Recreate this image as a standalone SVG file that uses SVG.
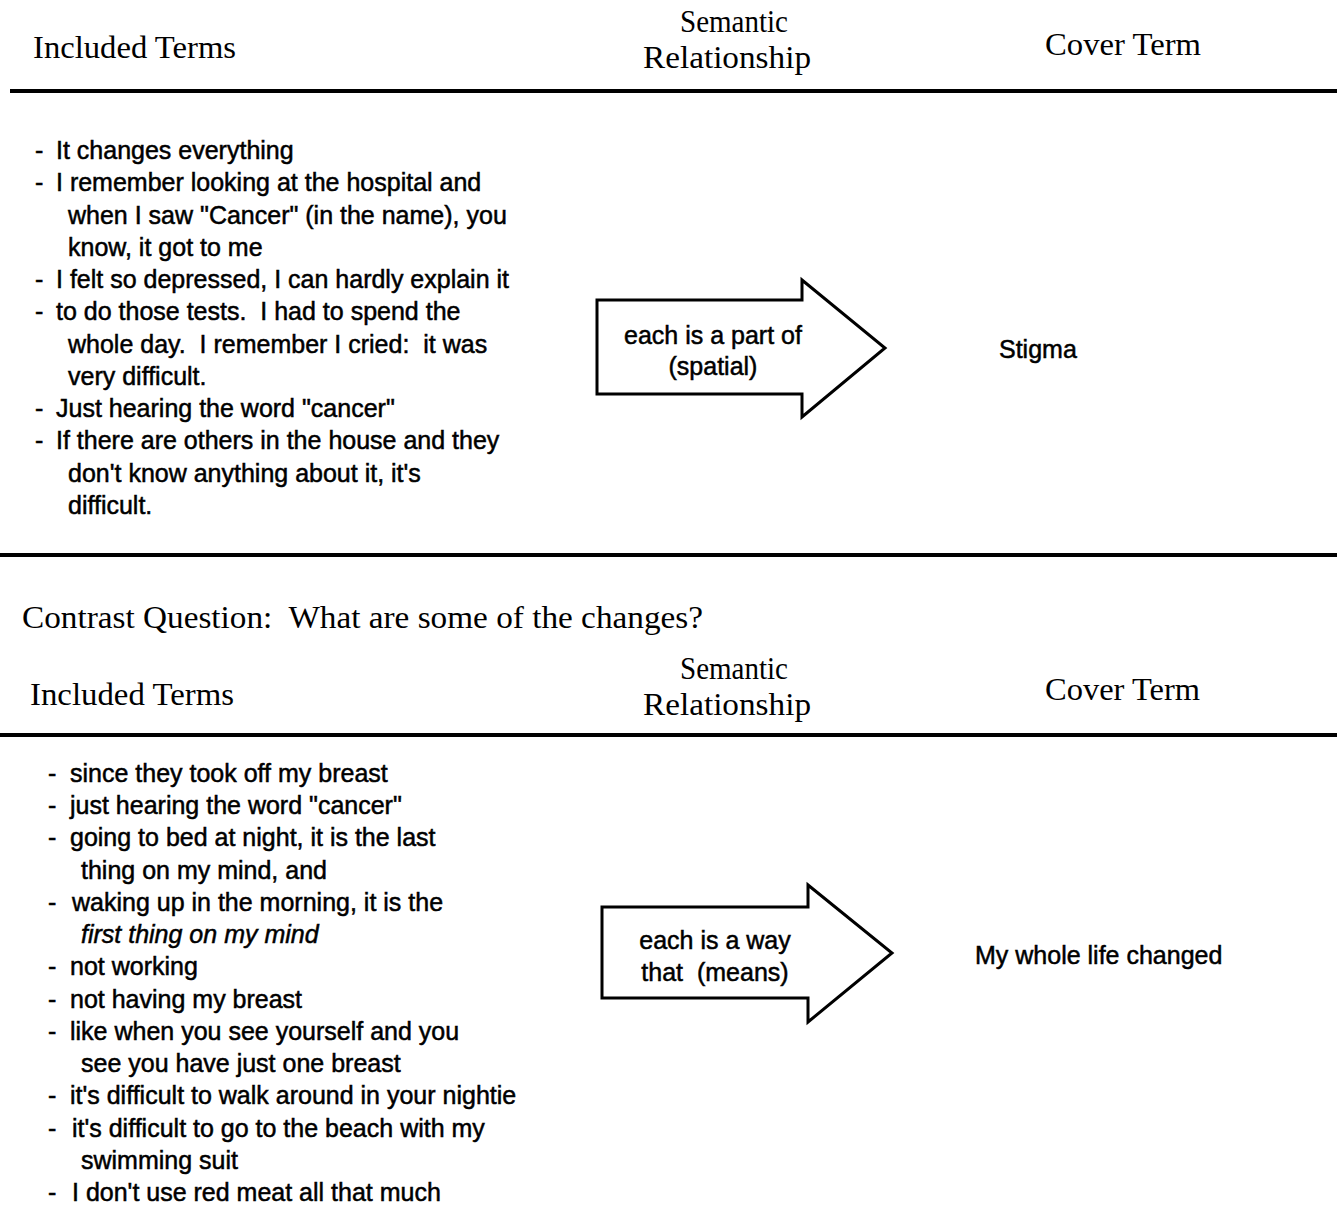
<svg xmlns="http://www.w3.org/2000/svg" width="1337" height="1227" viewBox="0 0 1337 1227">
  <style>
    text { white-space: pre; }
    .head { font-family: "Liberation Serif", "Times New Roman", serif; font-size: 32px; fill: #000; }
    .body { font-family: "Liberation Sans", Arial, sans-serif; font-size: 25px; fill: #000; stroke: #000; stroke-width: 0.5px; }
    .mid { text-anchor: middle; }
    .rule { stroke: #000; stroke-width: 4; }
    .arrow { fill: #fff; stroke: #000; stroke-width: 3; stroke-linejoin: miter; }
  </style>
  <rect width="1337" height="1227" fill="#fff"/>

  <!-- Table 1: headers -->
  <g id="header-1">
    <text class="head" x="33" y="58" textLength="203" lengthAdjust="spacingAndGlyphs">Included Terms</text>
    <text class="head mid" x="734" y="32" textLength="108" lengthAdjust="spacingAndGlyphs">Semantic</text>
    <text class="head mid" x="727" y="68" textLength="168" lengthAdjust="spacingAndGlyphs">Relationship</text>
    <text class="head" x="1045" y="55" textLength="156" lengthAdjust="spacingAndGlyphs">Cover Term</text>
  </g>

  <g id="rules">
    <line class="rule" x1="10" y1="91" x2="1337" y2="91"/>
    <line class="rule" x1="0" y1="555" x2="1337" y2="555"/>
    <line class="rule" x1="0" y1="735" x2="1337" y2="735"/>
  </g>

  <!-- Table 1: included terms -->
  <g id="terms-1" class="body">
    <text x="35" y="159">-</text><text x="56" y="159">It changes everything</text>
    <text x="35" y="191">-</text><text x="56" y="191">I remember looking at the hospital and</text>
    <text x="68" y="224">when I saw "Cancer" (in the name), you</text>
    <text x="68" y="256">know, it got to me</text>
    <text x="35" y="288">-</text><text x="56" y="288">I felt so depressed, I can hardly explain it</text>
    <text x="35" y="320">-</text><text x="56" y="320">to do those tests.  I had to spend the</text>
    <text x="68" y="353">whole day.  I remember I cried:  it was</text>
    <text x="68" y="385">very difficult.</text>
    <text x="35" y="417">-</text><text x="56" y="417">Just hearing the word "cancer"</text>
    <text x="35" y="449">-</text><text x="56" y="449">If there are others in the house and they</text>
    <text x="68" y="482">don't know anything about it, it's</text>
    <text x="68" y="514">difficult.</text>
  </g>

  <g id="connectors">
    <g id="relation-1">
      <path class="arrow" d="M597,300 H802 V280 L885,348 L802,417 V394 H597 Z"/>
      <text class="body mid" x="713" y="344">each is a part of</text>
      <text class="body mid" x="713" y="375">(spatial)</text>
    </g>
    <g id="relation-2">
      <path class="arrow" d="M602,907 H808 V885 L892,953 L808,1022 V998 H602 Z"/>
      <text class="body mid" x="715" y="949">each is a way</text>
      <text class="body mid" x="715" y="981">that  (means)</text>
    </g>
  </g>

  <g id="cover-1">
    <text class="body" x="999" y="358">Stigma</text>
  </g>

  <!-- Contrast question -->
  <g id="question">
    <text class="head" x="22" y="628" textLength="681" lengthAdjust="spacingAndGlyphs">Contrast Question:  What are some of the changes?</text>
  </g>

  <!-- Table 2: headers -->
  <g id="header-2">
    <text class="head" x="30" y="705" textLength="204" lengthAdjust="spacingAndGlyphs">Included Terms</text>
    <text class="head mid" x="734" y="679" textLength="108" lengthAdjust="spacingAndGlyphs">Semantic</text>
    <text class="head mid" x="727" y="715" textLength="168" lengthAdjust="spacingAndGlyphs">Relationship</text>
    <text class="head" x="1045" y="700" textLength="155" lengthAdjust="spacingAndGlyphs">Cover Term</text>
  </g>

  <!-- Table 2: included terms -->
  <g id="terms-2" class="body">
    <text x="48" y="782">-</text><text x="70" y="782">since they took off my breast</text>
    <text x="48" y="814">-</text><text x="70" y="814">just hearing the word "cancer"</text>
    <text x="48" y="846">-</text><text x="70" y="846">going to bed at night, it is the last</text>
    <text x="81" y="879">thing on my mind, and</text>
    <text x="48" y="911">-</text><text x="72" y="911">waking up in the morning, it is the</text>
    <text x="81" y="943" font-style="italic">first thing on my mind</text>
    <text x="48" y="975">-</text><text x="70" y="975">not working</text>
    <text x="48" y="1008">-</text><text x="70" y="1008">not having my breast</text>
    <text x="48" y="1040">-</text><text x="70" y="1040">like when you see yourself and you</text>
    <text x="81" y="1072">see you have just one breast</text>
    <text x="48" y="1104">-</text><text x="70" y="1104">it's difficult to walk around in your nightie</text>
    <text x="48" y="1137">-</text><text x="72" y="1137">it's difficult to go to the beach with my</text>
    <text x="81" y="1169">swimming suit</text>
    <text x="48" y="1201">-</text><text x="72" y="1201">I don't use red meat all that much</text>
  </g>

  <g id="cover-2">
    <text class="body" x="975" y="964">My whole life changed</text>
  </g>
</svg>
